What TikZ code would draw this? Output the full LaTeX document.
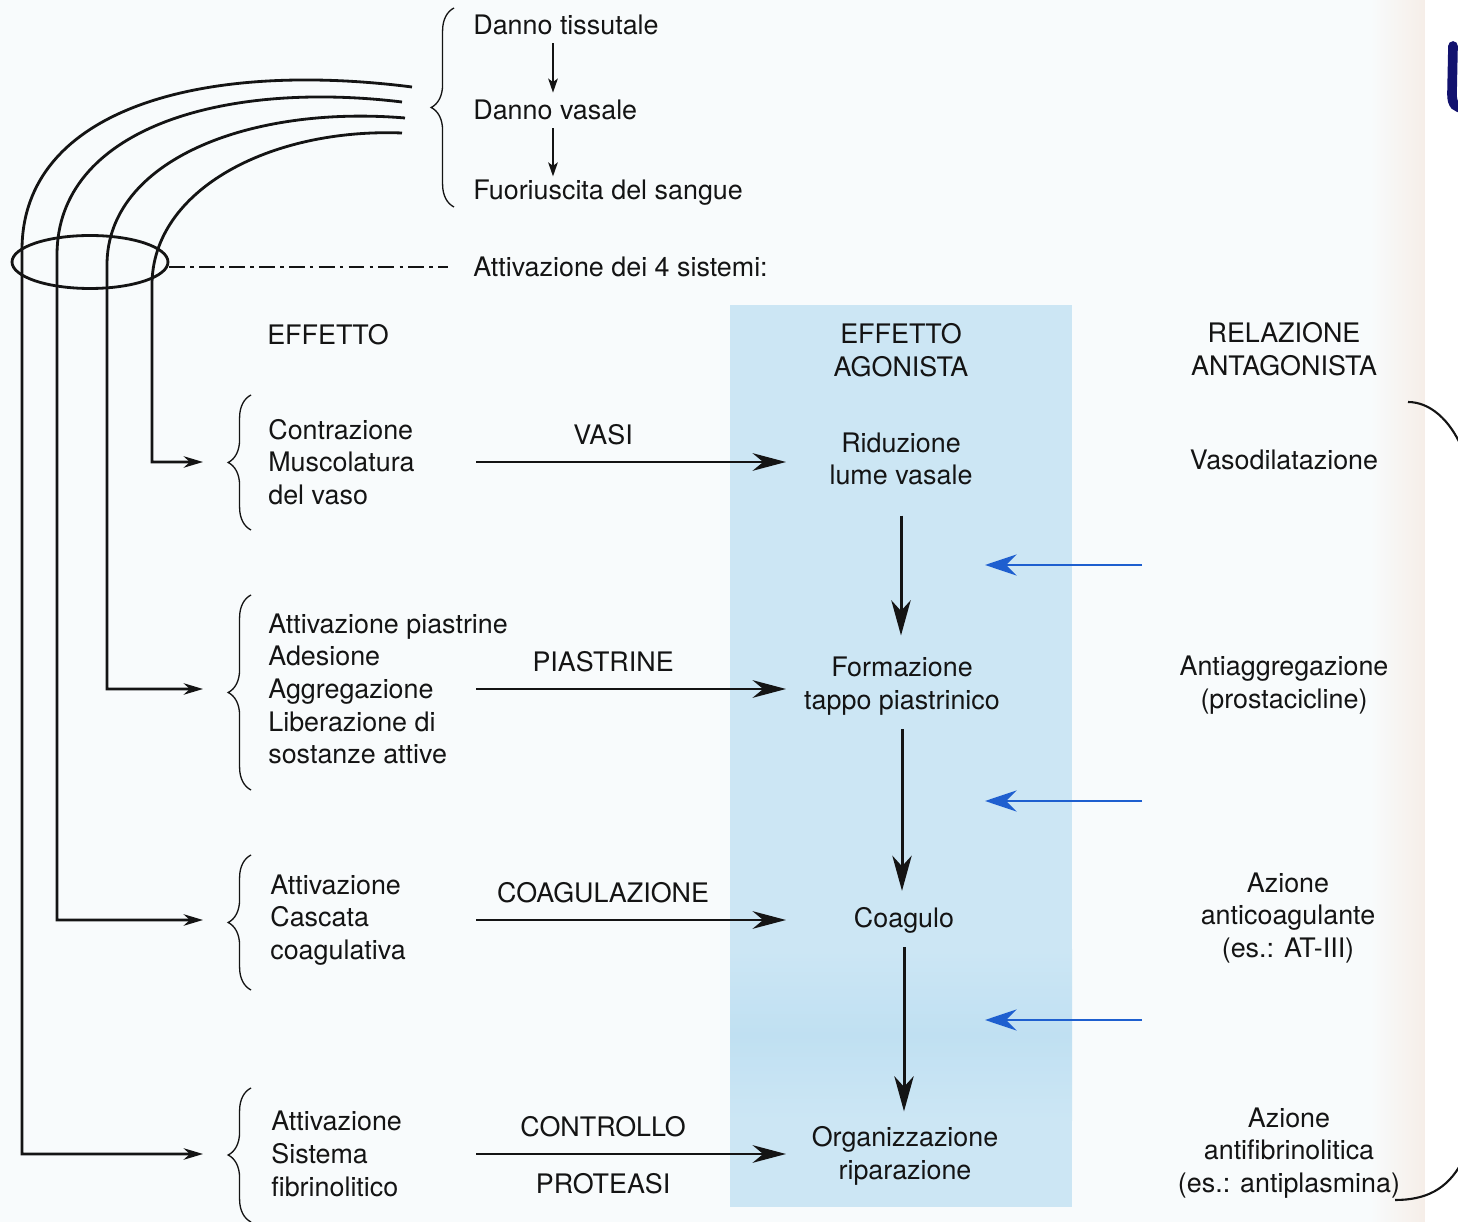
\documentclass[tikz,border=0pt]{standalone}
\usepackage{fontspec}
\setmainfont{TeX Gyre Heros}
\usetikzlibrary{arrows.meta,calc,positioning,shapes.geometric,decorations.pathreplacing}
\definecolor{Paper}{HTML}{F8FBFC}
\definecolor{Edge}{HTML}{F6EEE8}
\definecolor{Band}{HTML}{CCE6F4}
\definecolor{BandDeep}{HTML}{C0E0F2}
\definecolor{Ink}{HTML}{141414}
\definecolor{Antag}{HTML}{1E5FCF}
\definecolor{Navy}{HTML}{12126E}

\begin{document}
\begin{tikzpicture}[x=0.02cm,y=-0.02cm,
    txt/.style={font=\fontsize{15.3}{18.6}\selectfont,text=Ink,inner sep=0pt},
    leftcol/.style={txt,anchor=west,align=left},
    midcol/.style={txt,align=center},
    flow/.style={Ink,line width=1.7pt,-{Stealth[length=19pt,width=10pt,inset=6pt]}},
    chain/.style={Ink,line width=1.7pt,-{Stealth[length=20pt,width=11pt,inset=6pt]}},
    feed/.style={Ink,line width=1.6pt,-{Stealth[length=11pt,width=6.5pt,inset=3.5pt]}},
    thin/.style={Ink,line width=0.8pt,-{Stealth[length=8pt,width=5.5pt,inset=2pt]}},
    antag/.style={Antag,line width=1.6pt,-{Stealth[length=18pt,width=12pt,inset=6pt]}},
    curly/.style={Ink,line width=0.75pt,decorate,decoration={brace,amplitude=13pt}}]
  \useasboundingbox (0,0) rectangle (1458,1222);
  \fill[Paper] (0,0) rectangle (1458,1222);
  \shade[left color=Paper,right color=Edge] (1370,0) rectangle (1425,1222);
  \fill[white] (1425,0) rectangle (1458,1222);
  \fill[Band] (730,305) rectangle (1072,1207);
  \shade[top color=Band,bottom color=Band,middle color=BandDeep] (730,950) rectangle (1072,1120);
  \draw[Navy,line width=5.5pt,line cap=round] (1453,46) -- (1452,94) .. controls (1452,105) and (1456,108) .. (1464,108);
  \draw[Ink,line width=1.2pt] (1408,402) .. controls (1430,402) and (1450,420) .. (1462,448);
  \draw[Ink,line width=1.2pt] (1395,1200) .. controls (1425,1200) and (1447,1190) .. (1462,1162);

  \node[leftcol] (tissue) at (473,25) {Danno tissutale};
  \node[leftcol] (vessel) at (473,110) {Danno vasale};
  \node[leftcol] (bleed) at (473,193) {Fuoriuscita del sangue};
  \node[leftcol] (four) at (473,267) {Attivazione dei 4 sistemi:};
  \coordinate (drop) at (553,0);
  \draw[thin,shorten <=4.5pt,shorten >=4pt] (drop |- tissue.south) -- (drop |- vessel.north);
  \draw[thin,shorten <=4.5pt,shorten >=2pt] (drop |- vessel.south) -- (drop |- bleed.north);
  \draw[curly] (454,207) -- (454,8);

  \node[leftcol] (musc) at (268,462) {Contrazione\\Muscolatura\\del vaso};
  \node[leftcol] (plt) at (268,689) {Attivazione piastrine\\Adesione\\Aggregazione\\Liberazione di\\sostanze attive};
  \node[leftcol] (casc) at (270,920) {Attivazione\\Cascata\\coagulativa};
  \node[leftcol] (fibr) at (271,1154) {Attivazione\\Sistema\\fibrinolitico};
  \foreach \ya/\yb in {395/530,595/790,855/990,1088/1222}
    \draw[curly] (251,\yb) -- (251,\ya);

  \node[midcol] (eff) at (328,335) {EFFETTO};
  \node[midcol] (ago) at (901,350) {EFFETTO\\AGONISTA};
  \node[midcol] (rel) at (1284,349) {RELAZIONE\\ANTAGONISTA};

  \node[midcol] (ridu) at (901,459) {Riduzione\\lume vasale};
  \node[midcol] (form) at (902,686) {Formazione\\tappo piastrinico};
  \node[midcol] (coag) at (904,920) {Coagulo};
  \node[midcol] (orga) at (905,1156) {Organizzazione\\riparazione};

  \node[midcol] (vaso) at (1284,460) {Vasodilatazione};
  \node[midcol] (aggr) at (1284,685) {Antiaggregazione\\(prostacicline)};
  \node[midcol] (anco) at (1288,918) {Azione\\anticoagulante\\(es.: AT-III)};
  \node[midcol] (anfi) at (1289,1153) {Azione\\antifibrinolitica\\(es.: antiplasmina)};

  \coordinate (lane) at (476,0);
  \coordinate (gate) at (786,0);
  \coordinate (dock) at (203,0);
  \draw[flow] (lane |- musc) -- (gate |- musc) node[txt,pos=.41,above=9pt] (vasi) {VASI};
  \draw[flow] (lane |- plt) -- (gate |- plt) node[txt,pos=.41,above=9pt] (pias) {PIASTRINE};
  \draw[flow] (lane |- casc) -- (gate |- casc) node[txt,pos=.41,above=9pt] (coal) {COAGULAZIONE};
  \draw[flow] (lane |- fibr) -- (gate |- fibr) node[txt,pos=.41,above=9pt] (ctrl) {CONTROLLO}
    node[txt,pos=.41,below=10pt] (prot) {PROTEASI};

  \draw[chain,shorten <=17pt,shorten >=12pt] (ridu.south) -- (ridu.south |- form.north);
  \draw[chain,shorten <=8pt,shorten >=9pt] (form.south) -- (form.south |- coag.north);
  \draw[chain,shorten <=8pt,shorten >=8.5pt] (coag.south) -- (coag.south |- orga.north);

  \foreach \k/\yy in {1/565,2/801,3/1020}{
    \coordinate (blk\k) at (1142,\yy);
    \coordinate (hit\k) at (985,\yy);
    \draw[antag] (blk\k) -- (hit\k);
  }

  \coordinate (v1) at (412,87);
  \coordinate (v2) at (402,102);
  \coordinate (v3) at (405,118);
  \coordinate (v4) at (402,133);
  \draw[feed] (v1) .. controls (200,60) and (22,110) .. (22,250) |- (dock |- fibr);
  \draw[feed] (v2) .. controls (220,80) and (57,130) .. (57,255) |- (dock |- casc);
  \draw[feed] (v3) .. controls (250,105) and (107,160) .. (107,265) |- (dock |- plt);
  \draw[feed] (v4) .. controls (270,128) and (152,190) .. (152,285) |- (dock |- musc);
  \node[draw=Ink,ellipse,line width=1.6pt,minimum width=3.12cm,minimum height=1.06cm,inner sep=0pt] (ring) at (90,262) {};
  \draw[Ink,line width=1.2pt,dash pattern=on 9pt off 3pt on 2pt off 3pt,shorten >=0.5cm] (ring.east |- four) -- (four.west);
\end{tikzpicture}
\end{document}
